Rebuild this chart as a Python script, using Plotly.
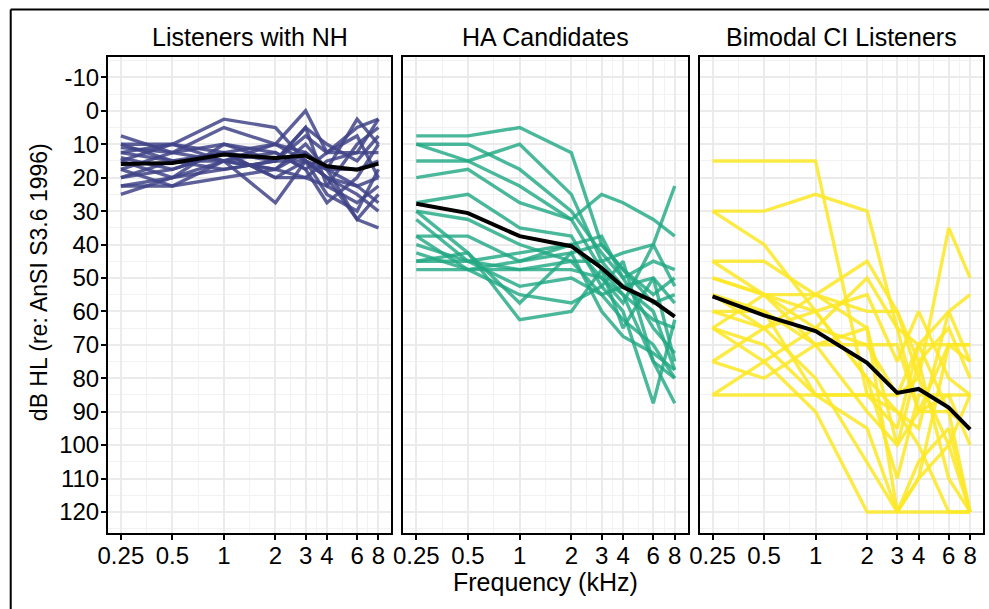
import math
import plotly.graph_objects as go

# ---------------- data ----------------
FREQS = [0.25, 0.5, 1, 2, 3, 4, 6, 8]
FREQ_LABELS = ["0.25", "0.5", "1", "2", "3", "4", "6", "8"]
MINOR_FREQS = [0.3536, 0.7071, 1.4142, 2.4495, 3.4641, 4.899, 6.9282]
Y_TICKS = list(range(-10, 121, 10))
Y_TICK_LABELS = [str(v) for v in Y_TICKS]
Y_MINOR = list(range(-15, 126, 10))
PANEL_TITLES = ["Listeners with NH", "HA Candidates", "Bimodal CI Listeners"]

NH_LINES = [
    [7.5, 12.5, 5, 10, 0, 12.5, 5, 2.5],
    [10, 10, 2.5, 5, 15, 20, 32.5, 35],
    [12.5, 10, 15, 27.5, 15, 20, 25, 30],
    [15, 20, 10, 15, 5, 22.5, 27.5, 22.5],
    [20, 17.5, 12.5, 10, 12.5, 17.5, 2.5, 10],
    [22.5, 22.5, 15, 12.5, 17.5, 27.5, 20, 10],
    [25, 20, 17.5, 15, 5, 10, 15, 7.5],
    [10, 15, 15, 17.5, 10, 17.5, 32.5, 25],
    [17.5, 12.5, 10, 12.5, 17.5, 12.5, 12.5, 2.5],
    [12.5, 15, 12.5, 15, 15, 17.5, 22.5, 20],
    [22.5, 20, 15, 17.5, 20, 15, 12.5, 12.5],
    [15, 10, 12.5, 20, 15, 25, 30, 17.5],
    [20, 15, 17.5, 15, 7.5, 12.5, 7.5, 20],
    [11, 12.5, 15, 10, 15, 20, 22.5, 27.5],
    [17.5, 22.5, 20, 17.5, 12.5, 17.5, 17.5, 15],
    [14, 17.5, 12.5, 20, 20, 22.5, 10, 5],
]
NH_MEAN = [15.9, 15.6, 13.1, 14.1, 13.4, 16.6, 17.6, 15.8]

HA_LINES = [
    [7.5, 7.5, 5, 12.5, 40, 47.5, 55, 50],
    [10, 10, 17.5, 30, 42.5, 50, 65, 72.5],
    [10, 15, 22.5, 32.5, 47.5, 55, 75, 80],
    [15, 15, 10, 25, 45, 52.5, 60, 77.5],
    [20, 17.5, 27.5, 32.5, 25, 27.5, 32.5, 37.5],
    [27.5, 25, 35, 37.5, 52.5, 60, 87.5, 62.5],
    [30, 32.5, 40, 45, 55, 62.5, 70, 80],
    [32.5, 45, 47.5, 45, 45, 42.5, 40, 22.5],
    [37.5, 37.5, 45, 42.5, 40, 47.5, 57.5, 55],
    [40, 45, 52.5, 50, 55, 52.5, 50, 57.5],
    [45, 45, 42.5, 40, 37.5, 50, 45, 47.5],
    [47.5, 47.5, 47.5, 47.5, 50, 55, 62.5, 65],
    [45, 42.5, 62.5, 60, 47.5, 65, 50, 75],
    [37.5, 47.5, 55, 57.5, 52.5, 45, 75, 87.5],
    [30, 42.5, 57.5, 42.5, 60, 67.5, 72.5, 77.5],
    [42.5, 47.5, 45, 40, 50, 57.5, 40, 52.5],
]
HA_MEAN = [27.8, 30.6, 37.5, 40.5, 47.0, 52.7, 57.0, 61.6]

CI_LINES = [
    [15, 15, 15, 85, 90, 100, 120, 120],
    [30, 30, 25, 30, 65, 90, 85, 100],
    [30, 40, 60, 55, 75, 60, 80, 85],
    [45, 45, 55, 45, 60, 80, 35, 50],
    [45, 55, 65, 50, 65, 70, 60, 55],
    [50, 55, 55, 60, 60, 75, 110, 120],
    [55, 60, 70, 70, 70, 90, 70, 70],
    [60, 65, 55, 65, 100, 75, 65, 80],
    [65, 75, 65, 70, 85, 80, 100, 120],
    [65, 70, 85, 85, 95, 70, 90, 120],
    [75, 80, 70, 65, 120, 110, 70, 75],
    [75, 65, 60, 80, 110, 85, 85, 85],
    [85, 85, 85, 85, 85, 70, 70, 70],
    [85, 75, 90, 120, 120, 120, 120, 120],
    [55, 65, 80, 105, 120, 105, 95, 120],
    [60, 60, 85, 95, 120, 110, 100, 85],
    [50, 55, 60, 80, 90, 95, 60, 75],
    [65, 55, 70, 90, 100, 90, 90, 95],
]
CI_MEAN = [55.5, 61.2, 65.9, 75.4, 84.4, 83.2, 88.8, 95.3]

GROUPS = [
    (NH_LINES, NH_MEAN, "rgba(65,68,135,0.85)"),
    (HA_LINES, HA_MEAN, "rgba(34,168,132,0.82)"),
    (CI_LINES, CI_MEAN, "rgba(253,231,37,0.85)"),
]

# ---------------- layout geometry ----------------
W, H = 989, 609
ML, MR, MT, MB = 108, 4, 57, 76
PW = W - ML - MR
PH = H - MT - MB
PANELS_PX = [(108, 392), (404, 689), (701, 985)]
DOMAINS = [[(a - ML) / PW, (b - ML) / PW] for a, b in PANELS_PX]

def px_x(p):
    return (p - ML) / PW

def px_y(p):
    return 1 - (p - MT) / PH

FONT = "Liberation Sans, Arial, sans-serif"
GRID = "#EBEBEB"
GRID_MINOR = "#F2F2F2"

fig = go.Figure()

for i, (lines, mean, color) in enumerate(GROUPS):
    xa = "x" if i == 0 else f"x{i+1}"
    ya = "y" if i == 0 else f"y{i+1}"
    for ln in lines:
        fig.add_trace(go.Scatter(x=FREQS, y=ln, mode="lines", xaxis=xa, yaxis=ya,
                                 line=dict(color=color, width=3.4), showlegend=False,
                                 hoverinfo="skip"))
    fig.add_trace(go.Scatter(x=FREQS, y=mean, mode="lines", xaxis=xa, yaxis=ya,
                             line=dict(color="black", width=4), showlegend=False))

lo = math.log10(0.25)
hi = math.log10(8)
pad = 0.05 * (hi - lo)
XRANGE = [lo - pad, hi + pad]
YRANGE = [126.3, -16.1]

layout = dict(
    width=W, height=H,
    margin=dict(l=ML, r=MR, t=MT, b=MB, pad=0),
    paper_bgcolor="white", plot_bgcolor="white",
    font=dict(family=FONT, size=24, color="black"),
    showlegend=False,
)

for i in range(3):
    xk = "xaxis" if i == 0 else f"xaxis{i+1}"
    yk = "yaxis" if i == 0 else f"yaxis{i+1}"
    layout[xk] = dict(
        type="log", domain=DOMAINS[i], range=XRANGE, anchor="y" if i == 0 else f"y{i+1}",
        tickmode="array", tickvals=FREQS, ticktext=FREQ_LABELS,
        showgrid=True, gridcolor=GRID, gridwidth=2,
        minor=dict(tickmode="array", tickvals=MINOR_FREQS, showgrid=True,
                   gridcolor=GRID_MINOR, gridwidth=1.2, ticks=""),
        showline=True, linecolor="black", linewidth=2, mirror=True,
        ticks="outside", ticklen=5, tickwidth=1.6, tickcolor="black",
        ticklabelstandoff=-5,
        tickfont=dict(size=24, color="black", family=FONT),
        zeroline=False,
    )
    layout[yk] = dict(
        domain=[0, 1], range=YRANGE, anchor="x" if i == 0 else f"x{i+1}",
        tickmode="array", tickvals=Y_TICKS, ticktext=Y_TICK_LABELS,
        showgrid=True, gridcolor=GRID, gridwidth=2,
        minor=dict(tickmode="array", tickvals=Y_MINOR, showgrid=True,
                   gridcolor=GRID_MINOR, gridwidth=1.2, ticks=""),
        showline=True, linecolor="black", linewidth=2, mirror=True,
        ticks="outside" if i == 0 else "", ticklen=5, tickwidth=1.6, tickcolor="black",
        ticklabelstandoff=-3,
        showticklabels=(i == 0),
        tickfont=dict(size=24, color="black", family=FONT),
        zeroline=False,
    )

annotations = []
for i, t in enumerate(PANEL_TITLES):
    cx = (DOMAINS[i][0] + DOMAINS[i][1]) / 2
    annotations.append(dict(text=t, x=cx, y=px_y(37), xref="paper", yref="paper",
                            xanchor="center", yanchor="middle", showarrow=False,
                            font=dict(size=25, color="black", family=FONT)))
annotations.append(dict(text="Frequency (kHz)", x=(DOMAINS[1][0] + DOMAINS[1][1]) / 2,
                        y=px_y(582), xref="paper", yref="paper", xanchor="center",
                        yanchor="middle", showarrow=False,
                        font=dict(size=25, color="black", family=FONT)))
annotations.append(dict(text="dB HL (re: AnSI S3.6 1996)", x=px_x(39), y=px_y(282),
                        xref="paper", yref="paper", xanchor="center", yanchor="middle",
                        textangle=-90, showarrow=False,
                        font=dict(size=23, color="black", family=FONT)))
layout["annotations"] = annotations

# outer frame (top and left edges visible in the image)
layout["shapes"] = [
    dict(type="line", xref="paper", yref="paper", x0=px_x(10.5), x1=px_x(995),
         y0=px_y(9.5), y1=px_y(9.5), line=dict(color="black", width=2)),
    dict(type="line", xref="paper", yref="paper", x0=px_x(10.5), x1=px_x(10.5),
         y0=px_y(9.5), y1=px_y(620), line=dict(color="black", width=2)),
]

fig.update_layout(**layout)
fig.write_html("out.html")
